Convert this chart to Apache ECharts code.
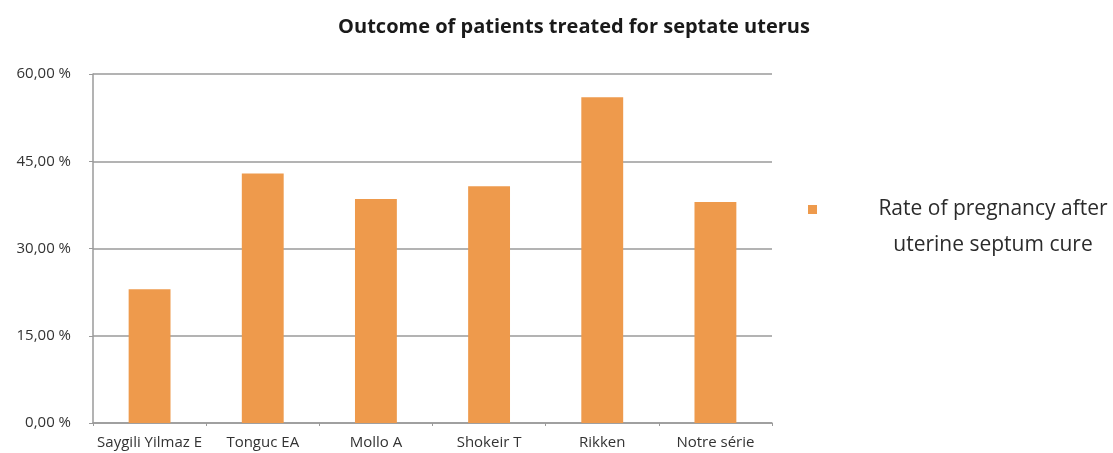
<!DOCTYPE html>
<html>
<head>
<meta charset="utf-8">
<script src="https://cdn.jsdelivr.net/npm/echarts@6/dist/echarts.min.js"></script>
<style>
  html, body { margin: 0; padding: 0; background: #ffffff; }
  #chart { width: 1113px; height: 453px; }
</style>
</head>
<body>
<div id="chart"></div>
<script>
// Studies compared
const categories = ['Saygili Yilmaz E', 'Tonguc EA', 'Mollo A', 'Shokeir T', 'Rikken', 'Notre série'];
// Pregnancy rate (%) after septum resection, per study
const pregnancyRate = [23.0, 42.9, 38.5, 40.7, 56.0, 38.0];
const seriesName = 'Rate of pregnancy after\nuterine septum cure';
const chartTitle = 'Outcome of patients treated for septate uterus';

const FONT = '"Open Sans", Lato, sans-serif';
const chart = echarts.init(document.getElementById('chart'));

chart.setOption({
  animation: false,
  backgroundColor: '#ffffff',
  title: {
    text: chartTitle,
    left: 569,
    top: 12,
    textAlign: 'center',
    textStyle: { fontFamily: FONT, fontWeight: 'bold', fontSize: 20, color: '#1a1a1a' }
  },
  legend: {
    left: 808,
    top: 199,
    padding: 0,
    orient: 'vertical',
    icon: 'rect',
    itemWidth: 9,
    itemHeight: 9,
    data: [seriesName],
    formatter: function (name) {
      return name.split('\n').map(function (s) { return '{a|' + s + '}'; }).join('\n');
    },
    textStyle: {
      fontFamily: FONT,
      color: '#2b2b2b',
      // top padding keeps the marker level with the first line
      padding: [36, 0, 0, 51],
      rich: {
        a: { width: 240, align: 'center', fontSize: 21, lineHeight: 36, fontFamily: FONT, color: '#2b2b2b' }
      }
    }
  },
  grid: { left: 93, right: 341, top: 74, bottom: 30, containLabel: false },
  xAxis: {
    type: 'category',
    data: categories,
    axisLine: { lineStyle: { color: '#9a9a9a', width: 1.5 } },
    axisTick: { show: true, alignWithLabel: false, length: 3, lineStyle: { color: '#9a9a9a' } },
    axisLabel: { fontFamily: FONT, fontSize: 15, color: '#333333', margin: 12, interval: 0 }
  },
  yAxis: {
    type: 'value',
    min: 0,
    max: 60,
    interval: 15,
    axisLine: { show: true, lineStyle: { color: '#9a9a9a', width: 1.5 } },
    axisTick: { show: true, length: 4, lineStyle: { color: '#9a9a9a' } },
    splitLine: { lineStyle: { color: '#9a9a9a', width: 1.5 } },
    axisLabel: {
      fontFamily: FONT, fontSize: 15, color: '#333333', margin: 22,
      formatter: function (v) { return v.toFixed(2).replace('.', ',') + ' %'; }
    }
  },
  series: [{
    name: seriesName,
    type: 'bar',
    data: pregnancyRate,
    barWidth: '37%',
    itemStyle: { color: '#ee9a4c' }
  }]
});
</script>
</body>
</html>
